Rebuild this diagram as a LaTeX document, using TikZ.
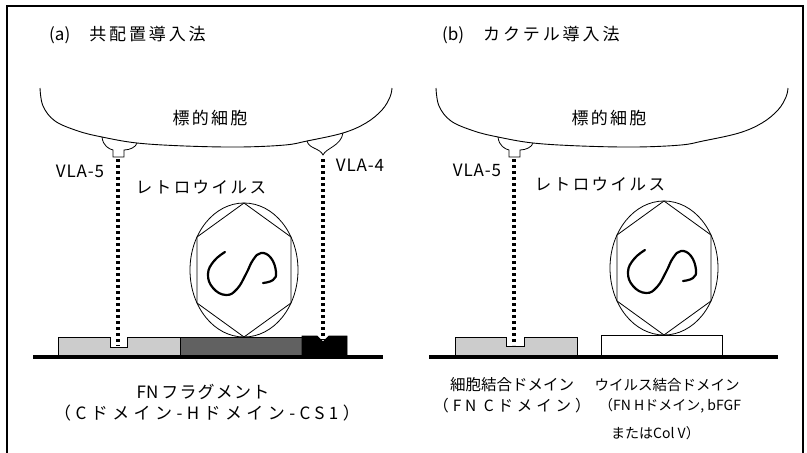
\documentclass[tikz,border=0pt]{standalone}
\usepackage{fontspec}
\setmainfont{Noto Sans CJK JP}
\newfontfamily\jptitle{Noto Sans CJK JP}[LetterSpace=17]
\newfontfamily\jpcell{Noto Sans CJK JP}[LetterSpace=13]
\newfontfamily\jpretro{Noto Sans CJK JP}[LetterSpace=15]
\newfontfamily\jpvla{Noto Sans CJK JP}[LetterSpace=5]
\newfontfamily\jpkana{Noto Sans CJK JP}[LetterSpace=7]
\newfontfamily\jpfrag{Noto Sans CJK JP}[LetterSpace=26]
\newfontfamily\jpparen{Noto Sans CJK JP}[LetterSpace=25]
\begin{document}
\begin{tikzpicture}[x=1pt,y=-1pt,
  every node/.style={inner sep=0pt, text=black},
  frameline/.style={line width=1.4pt},
  cellline/.style={line width=0.9pt},
  thinline/.style={line width=0.8pt},
  genome/.style={line width=2.2pt, line cap=round},
  tether/.style={line width=3.2pt, dash pattern=on 3.4pt off 2.6pt},
  baseline/.style={line width=4pt},
  lightdom/.style={fill=black!20, draw=black, line width=0.8pt},
  darkdom/.style={fill=black!62, draw=black, line width=0.8pt},
  blackdom/.style={fill=black, draw=black, line width=0.8pt},
  plaindom/.style={fill=white, draw=black, line width=0.8pt},
  titletext/.style={font=\fontsize{17}{20}\selectfont},
  celltext/.style={font=\jpcell\fontsize{17}{20}\selectfont},
  retrotext/.style={font=\jpretro\fontsize{16.5}{20}\selectfont},
  vlatext/.style={font=\jpvla\fontsize{17}{20}\selectfont},
  fragtext/.style={font=\jpfrag\fontsize{17}{20}\selectfont},
  virus/.pic={
    \draw[thinline] (0,0) ellipse [x radius=54pt, y radius=67pt];
    \draw[thinline] (0,-67) -- (47,-33) -- (47,33) -- (0,67) -- (-47,33) -- (-47,-33) -- cycle;
    \draw[genome] plot[smooth, tension=0.75] coordinates {(-19,-18) (-30,-9) (-36,4) (-31,18) (-18,25) (-7,19) (2,4) (9,-10) (17,-17) (27,-12) (32,2) (29,10) (19,13)};
  }]
\useasboundingbox (0,0) rectangle (807,453);

% outer frame (open at the bottom)
\draw[frameline] (7,453) -- (7,6) -- (803,6) -- (803,453);

% ---------------- (a) co-localisation method ----------------
\node[titletext, anchor=west] (titleA) at (49,35) {(a)\hspace{19pt}{\jptitle 共配置導入法}};

% target cell membrane
\draw[cellline] plot[smooth, tension=0.6] coordinates {(40,88) (43,106) (55,121) (78,131) (102,137) (137,143) (185,146) (240,147) (285,145) (307,141) (343,133) (366,123) (382,110) (390,97) (392,88)};
\node[celltext] (cellA) at (210,118) {標的細胞};

% VLA-5 receptor (cup with a stub)
\draw[thinline] (102,137) .. controls (103,146) and (109,149) .. (113,150) -- (113,157) -- (124,157) -- (124,150) .. controls (130,150) and (136,147) .. (137,143);
% VLA-4 receptor (pointed cup)
\draw[thinline] (307,141) .. controls (309,149) and (320,148) .. (323,155) .. controls (326,148) and (341,146) .. (343,133);
\node[vlatext] (vla5A) at (80,171) {VLA-5};
\node[vlatext] (vla4A) at (360,165) {VLA-4};
\node[retrotext] (retroA) at (201,187) {レトロウイルス};

% retrovirus particle
\pic at (244,270) {virus};

% FN fragment: C domain, H domain, CS1
\draw[baseline] (33,357) -- (383,357);
\draw[lightdom] (58,355) -- (58,337) -- (110,337) -- (110,347) -- (127,347) -- (127,337) -- (180,337) -- (180,355) -- cycle;
\draw[darkdom] (180,355) rectangle (302,337);
\draw[blackdom] (302,355) -- (302,336) -- (317,336) -- (323,342) -- (329,336) -- (347,336) -- (347,355) -- cycle;

% tethers between receptors and domains
\coordinate (r5A) at (118,159);
\coordinate (n5A) at (118,346);
\coordinate (r4A) at (323,159);
\coordinate (n4A) at (323,340);
\draw[tether] (r5A) -- (n5A);
\draw[tether] (r4A) -- (n4A);

\node[font=\fontsize{17}{20}\selectfont] (fnA) at (203,392) {FN\hspace{3pt}{\jpkana フラグメント}};
\node[fragtext] (fnB) at (207,413) {（Cドメイン-Hドメイン-CS1）};

% ---------------- (b) cocktail method ----------------
\node[titletext, anchor=west] (titleB) at (442,35) {(b)\hspace{19pt}{\jptitle カクテル導入法}};

\draw[cellline] plot[smooth, tension=0.6] coordinates {(436,88) (439,106) (451,121) (474,131) (498,137) (533,143) (581,146) (636,147) (681,145) (703,141) (739,133) (762,123) (778,110) (786,97) (788,88)};
\node[celltext] (cellB) at (609,118) {標的細胞};

\draw[thinline] (498,137) .. controls (499,146) and (505,149) .. (509,150) -- (509,157) -- (520,157) -- (520,150) .. controls (526,150) and (532,147) .. (533,143);
\node[vlatext] (vla5B) at (477,170) {VLA-5};
\node[retrotext] (retroB) at (600,184) {レトロウイルス};

\pic at (664,268) {virus};

\draw[baseline] (429,357) -- (778,357);
\draw[lightdom] (455,355) -- (455,337) -- (506,337) -- (506,346) -- (524,346) -- (524,337) -- (577,337) -- (577,355) -- cycle;
\draw[plaindom] (601,355) rectangle (722,335.5);

\coordinate (r5B) at (514,159);
\coordinate (n5B) at (514,345);
\draw[tether] (r5B) -- (n5B);

\node[font=\fontsize{15.5}{18}\selectfont] (cbd1) at (512,385) {細胞結合ドメイン};
\node[font=\jpparen\fontsize{15.5}{18}\selectfont] (cbd2) at (512,406) {（FN Cドメイン）};
\node[font=\fontsize{14.5}{17}\selectfont] (vbd1) at (667,385) {ウイルス結合ドメイン};
\node[font=\fontsize{14}{16}\selectfont, anchor=west] (vbd2) at (599,406) {（FN Hドメイン, bFGF};
\node[font=\fontsize{14}{16}\selectfont, anchor=west] (vbd3) at (611,433) {またはCol V）};
\end{tikzpicture}
\end{document}
